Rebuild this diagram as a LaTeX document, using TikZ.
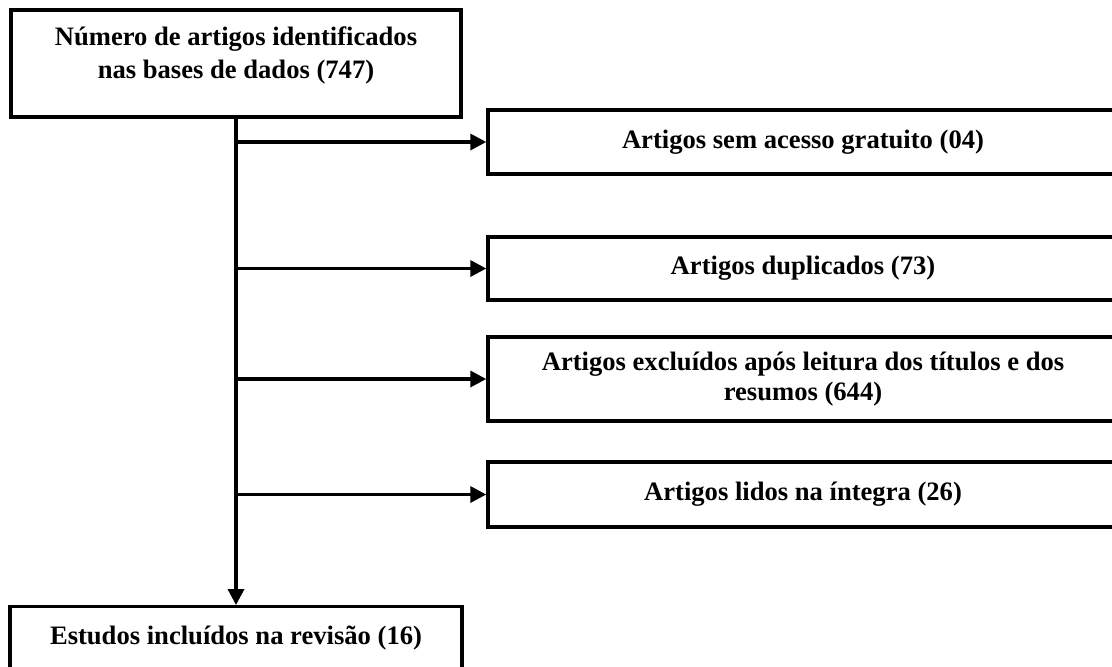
\documentclass[tikz,border=0pt]{standalone}
\usepackage{fontspec}
\setmainfont{Liberation Serif}
\usetikzlibrary{arrows.meta}
\tikzset{
  box/.style={draw=black, line width=1.7pt, inner sep=0pt, align=center,
    font=\fontsize{13.3}{16.5}\selectfont\bfseries},
  arrow/.style={line width=1.7pt, -{Triangle[length=8pt,width=8pt]}}
}
\begin{document}
\begin{tikzpicture}[x=0.5pt,y=-0.5pt]
  \useasboundingbox (0,0) rectangle (1112,666);

  % boxes
  \node[box, minimum width=225pt, minimum height=53.5pt, text depth=11pt] (ident) at (236,63.5) {Número de artigos identificados\\nas bases de dados (747)};
  \node[box, minimum width=315pt, minimum height=32pt] (semacesso) at (803,142) {Artigos sem acesso gratuito (04)};
  \node[box, minimum width=315pt, minimum height=31.5pt] (dupl) at (803,268.5) {Artigos duplicados (73)};
  \node[box, minimum width=315pt, minimum height=42pt, font=\fontsize{13.3}{15}\selectfont\bfseries] (excl) at (803,379) {Artigos excluídos após leitura dos títulos e dos\\resumos (644)};
  \node[box, minimum width=315pt, minimum height=32.5pt] (lidos) at (803,494.5) {Artigos lidos na íntegra (26)};
  \node[box, minimum width=226pt, minimum height=40pt, anchor=north, text height=9pt, text depth=11.5pt] (incl) at (236,605) {Estudos incluídos na revisão (16)};

  % arrows
  \draw[arrow] (ident) -- (incl);
  \draw[arrow] (ident.south |- semacesso) -- (semacesso);
  \draw[arrow] (ident.south |- dupl) -- (dupl);
  \draw[arrow] (ident.south |- excl) -- (excl);
  \draw[arrow] (ident.south |- lidos) -- (lidos);
\end{tikzpicture}
\end{document}
